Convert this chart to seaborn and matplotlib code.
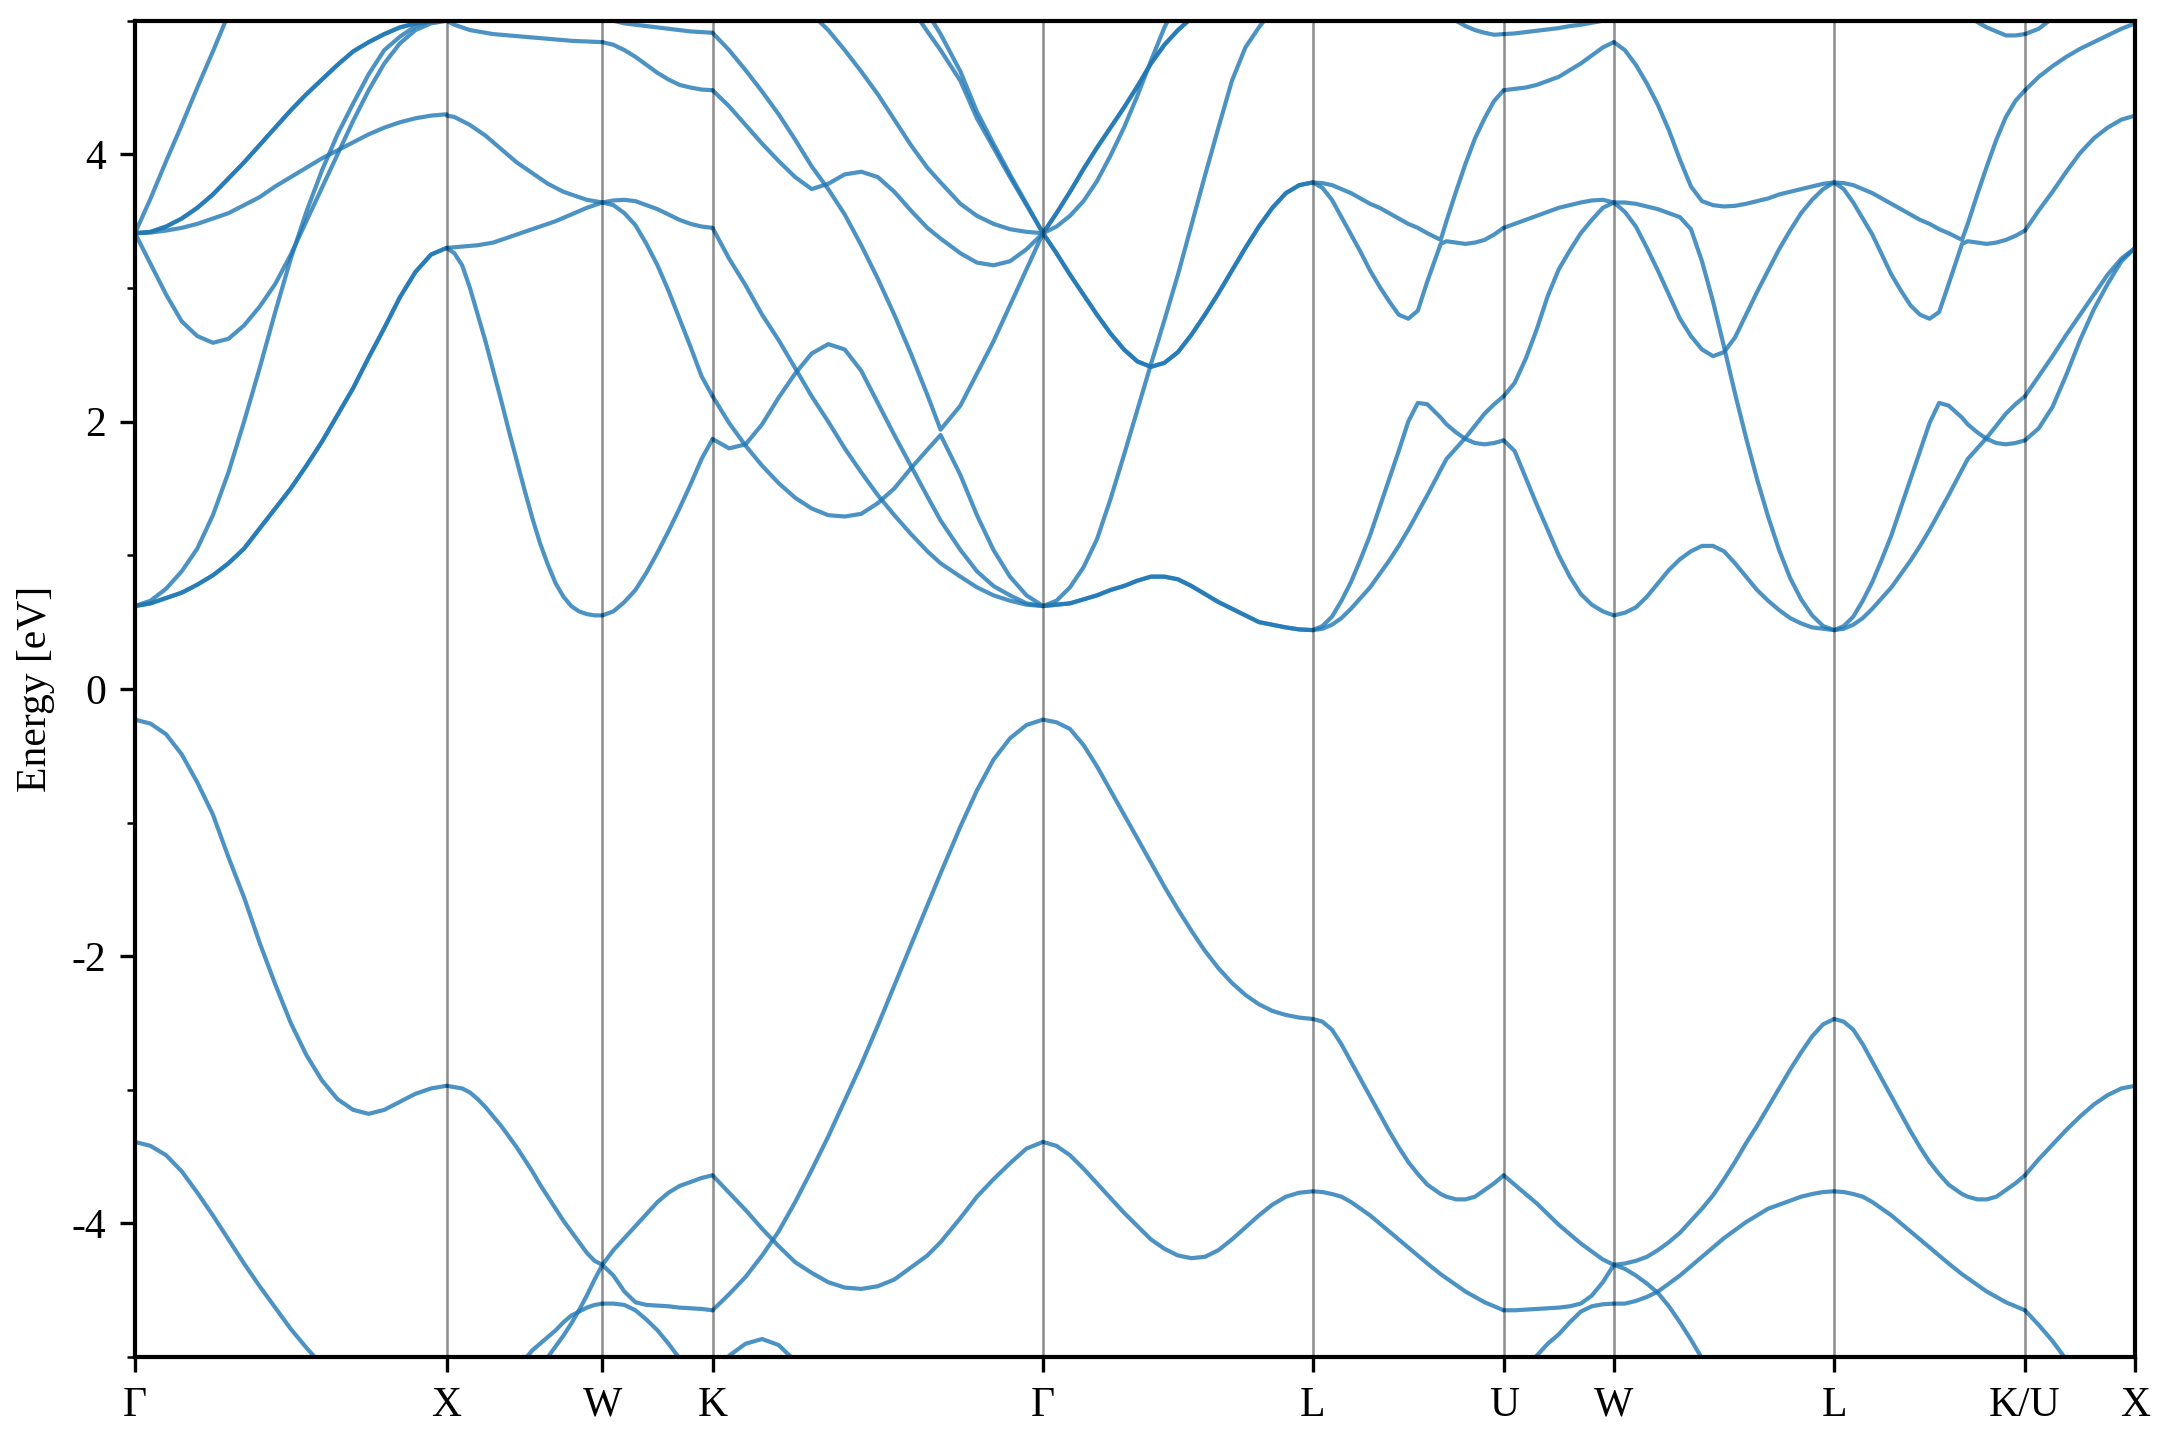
import numpy as np
import pandas as pd
import matplotlib
matplotlib.use("Agg")
import matplotlib.pyplot as plt
from matplotlib.ticker import MultipleLocator
import seaborn as sns

nan = np.nan

# ---------------- high-symmetry path ----------------
kpoint_labels = ["Γ", "X", "W", "K", "Γ", "L", "U", "W", "L", "K/U", "X"]
kpoint_dist = [0.0, 1.0, 1.5, 1.8536, 2.9142, 3.7802, 4.3926, 4.7462, 5.4533, 6.0657, 6.4193]

# ---------------- band energies (eV) read per path segment ----------------
# Γ -> X
gx_t = [0, .05, .1, .15, .2, .25, .3, .35, .4, .45, .5, .55, .6, .65, .7, .75, .8, .85, .9, .95, 1.0]
gx_bands = [
    [0.62, 0.64, 0.68, 0.72, 0.78, 0.85, 0.94, 1.05, 1.20, 1.35, 1.50, 1.67, 1.85, 2.05, 2.25, 2.48, 2.70, 2.93, 3.12, 3.25, 3.30],
    [0.62, 0.66, 0.75, 0.88, 1.05, 1.30, 1.62, 2.00, 2.40, 2.82, 3.22, 3.57, 3.88, 4.15, 4.38, 4.60, 4.78, 4.88, 4.96, 5.00, 5.02],
    [3.41, 3.18, 2.95, 2.75, 2.64, 2.59, 2.62, 2.72, 2.86, 3.03, 3.25, 3.50, 3.75, 4.00, 4.25, 4.48, 4.68, 4.83, 4.93, 4.98, 5.00],
    [3.41, 3.67, 3.95, 4.22, 4.50, 4.77, 5.05, 5.35, nan, nan, nan, nan, nan, nan, nan, nan, nan, nan, nan, nan, nan],
    [3.41, 3.42, 3.46, 3.52, 3.60, 3.70, 3.82, 3.94, 4.07, 4.20, 4.33, 4.45, 4.56, 4.67, 4.77, 4.84, 4.90, 4.95, 4.98, 4.995, 5.00],
    [3.41, 3.415, 3.43, 3.45, 3.48, 3.52, 3.56, 3.62, 3.68, 3.76, 3.83, 3.90, 3.97, 4.03, 4.09, 4.15, 4.20, 4.24, 4.27, 4.29, 4.30],
    [-0.23, -0.26, -0.34, -0.49, -0.70, -0.94, -1.26, -1.56, -1.90, -2.21, -2.50, -2.74, -2.93, -3.07, -3.15, -3.18, -3.15, -3.09, -3.03, -2.99, -2.97],
    [-3.39, -3.42, -3.49, -3.61, -3.77, -3.94, -4.12, -4.30, -4.47, -4.63, -4.79, -4.93, -5.06, -5.20, nan, nan, nan, nan, nan, nan, nan],
]
gx_degen = [2, 1, 1, 1, 2, 1, 1, 1]

# X -> W
xw_t = [0, .05, .1, .15, .2, .25, .3, .35, .4, .45, .5, .55, .6, .65, .7, .75, .8, .85, .9, .95, 1.0]
xw_bands = [
    [3.30, 3.26, 3.17, 3.00, 2.80, 2.60, 2.38, 2.16, 1.93, 1.71, 1.49, 1.28, 1.09, 0.93, 0.79, 0.69, 0.62, 0.58, 0.56, 0.55, 0.55],
    [3.30, 3.305, 3.31, 3.315, 3.32, 3.33, 3.34, 3.36, 3.38, 3.40, 3.42, 3.44, 3.46, 3.48, 3.50, 3.525, 3.55, 3.575, 3.60, 3.62, 3.64],
    [4.29, 4.28, 4.25, 4.22, 4.18, 4.14, 4.09, 4.04, 3.99, 3.94, 3.90, 3.86, 3.82, 3.78, 3.75, 3.72, 3.70, 3.68, 3.66, 3.65, 3.64],
    [5.00, 4.97, 4.95, 4.93, 4.92, 4.91, 4.90, 4.895, 4.89, 4.885, 4.88, 4.875, 4.87, 4.865, 4.86, 4.855, 4.85, 4.847, 4.845, 4.842, 4.84],
    [-2.97, -2.98, -2.99, -3.02, -3.07, -3.13, -3.20, -3.27, -3.35, -3.43, -3.52, -3.61, -3.71, -3.80, -3.89, -3.98, -4.06, -4.14, -4.22, -4.28, -4.31],
    [nan, nan, nan, nan, nan, nan, nan, nan, nan, nan, nan, nan, -5.15, -5.00, -4.92, -4.84, -4.75, -4.65, -4.54, -4.42, -4.31],
    [nan, nan, nan, nan, nan, nan, nan, nan, nan, -5.15, -5.02, -4.95, -4.90, -4.85, -4.80, -4.74, -4.69, -4.66, -4.63, -4.61, -4.60],
]
xw_degen = [1] * len(xw_bands)

# W -> K
wk_t = [0, .1, .2, .3, .4, .5, .6, .7, .8, .9, 1.0]
wk_bands = [
    [4.84, 4.82, 4.78, 4.73, 4.67, 4.61, 4.56, 4.52, 4.50, 4.485, 4.48],
    [5.02, 5.00, 4.98, 4.97, 4.96, 4.95, 4.94, 4.93, 4.92, 4.915, 4.91],
    [3.64, 3.655, 3.66, 3.65, 3.62, 3.59, 3.55, 3.51, 3.48, 3.46, 3.45],
    [3.64, 3.62, 3.56, 3.47, 3.33, 3.17, 2.98, 2.77, 2.56, 2.34, 2.19],
    [0.55, 0.58, 0.65, 0.74, 0.87, 1.02, 1.18, 1.35, 1.53, 1.72, 1.87],
    [-4.31, -4.20, -4.11, -4.02, -3.93, -3.84, -3.77, -3.72, -3.69, -3.66, -3.64],
    [-4.31, -4.39, -4.51, -4.59, -4.61, -4.615, -4.62, -4.63, -4.635, -4.64, -4.65],
    [-4.60, -4.60, -4.61, -4.65, -4.72, -4.80, -4.90, -5.01, -5.12, nan, nan],
]
wk_degen = [1] * len(wk_bands)

# K -> Γ
kg_t = [0, .05, .1, .15, .2, .25, .3, .35, .4, .45, .5, .55, .6, .65, .69, .75, .8, .85, .9, .95, 1.0]
kg_bands = [
    [4.48, 4.36, 4.22, 4.08, 3.95, 3.83, 3.74, 3.78, 3.85, 3.87, 3.83, 3.72, 3.58, 3.45, 3.37, 3.26, 3.19, 3.17, 3.20, 3.29, 3.41],
    [4.91, 4.78, 4.63, 4.47, 4.30, 4.11, 3.91, 3.74, 3.55, 3.32, 3.07, 2.80, 2.51, 2.20, 1.94, 2.12, 2.36, 2.60, 2.87, 3.14, 3.41],
    [nan, nan, nan, nan, 5.40, 5.20, 5.05, 4.93, 4.78, 4.62, 4.45, 4.26, 4.07, 3.90, 3.79, 3.63, 3.54, 3.48, 3.44, 3.42, 3.41],
    [nan, nan, nan, nan, nan, nan, nan, nan, nan, nan, nan, 5.30, 5.10, 4.92, 4.78, 4.55, 4.27, 4.05, 3.83, 3.62, 3.41],
    [nan, nan, nan, nan, nan, nan, nan, nan, nan, nan, nan, 5.50, 5.30, 5.06, 4.90, 4.62, 4.32, 4.08, 3.85, 3.63, 3.41],
    [3.45, 3.22, 3.02, 2.80, 2.61, 2.40, 2.19, 2.00, 1.80, 1.62, 1.45, 1.30, 1.16, 1.03, 0.94, 0.84, 0.76, 0.70, 0.66, 0.63, 0.62],
    [1.87, 1.80, 1.83, 1.98, 2.18, 2.36, 2.51, 2.58, 2.54, 2.38, 2.14, 1.90, 1.67, 1.44, 1.26, 1.04, 0.88, 0.77, 0.70, 0.64, 0.62],
    [2.19, 1.99, 1.82, 1.67, 1.54, 1.43, 1.35, 1.30, 1.29, 1.31, 1.39, 1.50, 1.65, 1.79, 1.90, 1.60, 1.30, 1.04, 0.84, 0.70, 0.62],
    [-4.65, -4.53, -4.40, -4.24, -4.06, -3.84, -3.60, -3.35, -3.08, -2.81, -2.52, -2.22, -1.92, -1.62, -1.38, -1.03, -0.76, -0.53, -0.37, -0.27, -0.23],
    [-3.64, -3.77, -3.90, -4.04, -4.17, -4.29, -4.37, -4.44, -4.48, -4.49, -4.47, -4.42, -4.33, -4.24, -4.14, -3.96, -3.80, -3.67, -3.55, -3.44, -3.39],
    [-5.30, -4.99, -4.90, -4.865, -4.91, -5.03, -5.20, nan, nan, nan, nan, nan, nan, nan, nan, nan, nan, nan, nan, nan, nan],
]
kg_degen = [1] * len(kg_bands)

# Γ -> L
gl_t = [0, .05, .1, .15, .2, .25, .3, .35, .4, .45, .5, .55, .6, .65, .7, .75, .8, .85, .9, .95, 1.0]
gl_bands = [
    [3.41, 3.56, 3.72, 3.89, 4.05, 4.20, 4.35, 4.51, 4.68, 4.82, 4.93, 5.02, 5.12, 5.22, nan, nan, nan, nan, nan, nan, nan],
    [3.41, 3.46, 3.54, 3.65, 3.80, 3.99, 4.20, 4.44, 4.70, 4.95, 5.15, 5.40, nan, nan, nan, nan, nan, nan, nan, nan, nan],
    [3.41, 3.26, 3.10, 2.95, 2.80, 2.66, 2.54, 2.45, 2.41, 2.44, 2.52, 2.65, 2.80, 2.96, 3.13, 3.30, 3.46, 3.60, 3.71, 3.77, 3.79],
    [0.62, 0.66, 0.76, 0.91, 1.12, 1.42, 1.75, 2.09, 2.43, 2.76, 3.10, 3.47, 3.84, 4.20, 4.55, 4.80, 4.95, 5.08, 5.20, nan, nan],
    [0.62, 0.63, 0.64, 0.67, 0.70, 0.74, 0.77, 0.81, 0.84, 0.84, 0.82, 0.77, 0.71, 0.65, 0.60, 0.55, 0.50, 0.48, 0.46, 0.445, 0.44],
    [-0.23, -0.25, -0.30, -0.42, -0.58, -0.76, -0.94, -1.12, -1.30, -1.48, -1.65, -1.81, -1.96, -2.09, -2.20, -2.29, -2.36, -2.41, -2.44, -2.46, -2.47],
    [-3.39, -3.42, -3.49, -3.59, -3.70, -3.81, -3.92, -4.02, -4.12, -4.19, -4.24, -4.26, -4.25, -4.20, -4.12, -4.03, -3.94, -3.86, -3.80, -3.77, -3.76],
]
gl_degen = [2, 1, 2, 1, 2, 1, 1]

# L -> U
lu_t = [0, .05, .1, .15, .2, .25, .3, .35, .4, .45, .5, .55, .6, .67, .7, .75, .8, .85, .9, .95, 1.0]
lu_bands = [
    [3.79, 3.785, 3.77, 3.74, 3.71, 3.67, 3.63, 3.60, 3.56, 3.52, 3.48, 3.45, 3.41, 3.36, 3.50, 3.72, 3.93, 4.12, 4.27, 4.40, 4.48],
    [3.79, 3.75, 3.66, 3.53, 3.40, 3.27, 3.13, 3.01, 2.90, 2.80, 2.77, 2.83, 3.05, 3.33, 3.35, 3.34, 3.33, 3.34, 3.36, 3.40, 3.45],
    [0.44, 0.47, 0.54, 0.66, 0.80, 0.97, 1.15, 1.36, 1.57, 1.78, 2.00, 2.14, 2.13, 2.03, 1.98, 1.92, 1.87, 1.84, 1.83, 1.84, 1.86],
    [0.44, 0.45, 0.48, 0.53, 0.60, 0.68, 0.76, 0.86, 0.96, 1.07, 1.19, 1.32, 1.45, 1.64, 1.72, 1.80, 1.88, 1.97, 2.06, 2.13, 2.19],
    [nan, nan, nan, nan, nan, nan, nan, nan, nan, nan, nan, nan, 5.20, 5.10, 5.05, 5.00, 4.96, 4.93, 4.91, 4.895, 4.90],
    [-2.47, -2.49, -2.55, -2.66, -2.79, -2.92, -3.05, -3.18, -3.31, -3.43, -3.54, -3.63, -3.71, -3.78, -3.80, -3.82, -3.82, -3.80, -3.75, -3.70, -3.64],
    [-3.76, -3.765, -3.78, -3.80, -3.84, -3.89, -3.94, -4.00, -4.06, -4.12, -4.18, -4.24, -4.30, -4.38, -4.41, -4.46, -4.51, -4.55, -4.59, -4.62, -4.65],
]
lu_degen = [1] * len(lu_bands)

# U -> W
uw_t = [0, .1, .2, .3, .4, .5, .6, .7, .8, .9, 1.0]
uw_bands = [
    [4.90, 4.905, 4.915, 4.925, 4.935, 4.945, 4.96, 4.97, 4.985, 5.00, 5.02],
    [4.48, 4.49, 4.50, 4.52, 4.55, 4.58, 4.63, 4.68, 4.74, 4.80, 4.84],
    [3.45, 3.48, 3.51, 3.54, 3.57, 3.60, 3.62, 3.64, 3.655, 3.66, 3.64],
    [2.19, 2.29, 2.47, 2.69, 2.94, 3.14, 3.28, 3.41, 3.51, 3.60, 3.64],
    [1.86, 1.78, 1.58, 1.38, 1.19, 1.00, 0.84, 0.71, 0.63, 0.58, 0.55],
    [-3.64, -3.71, -3.78, -3.85, -3.93, -4.01, -4.08, -4.15, -4.21, -4.27, -4.31],
    [-4.65, -4.65, -4.645, -4.64, -4.635, -4.63, -4.62, -4.60, -4.54, -4.44, -4.31],
    [nan, nan, -5.30, -4.99, -4.90, -4.83, -4.74, -4.66, -4.62, -4.605, -4.60],
]
uw_degen = [1] * len(uw_bands)

# W -> L
wl_t = [0, .05, .1, .15, .2, .25, .3, .35, .4, .45, .5, .55, .6, .65, .7, .75, .8, .85, .9, .95, 1.0]
wl_bands = [
    [4.84, 4.78, 4.67, 4.53, 4.37, 4.18, 3.96, 3.76, 3.65, 3.62, 3.61, 3.615, 3.63, 3.65, 3.67, 3.70, 3.72, 3.74, 3.76, 3.78, 3.79],
    [3.64, 3.64, 3.63, 3.61, 3.59, 3.56, 3.53, 3.44, 3.20, 2.90, 2.56, 2.21, 1.88, 1.57, 1.29, 1.04, 0.83, 0.67, 0.55, 0.47, 0.44],
    [3.64, 3.57, 3.46, 3.30, 3.13, 2.95, 2.77, 2.64, 2.54, 2.49, 2.52, 2.63, 2.80, 2.97, 3.13, 3.29, 3.43, 3.56, 3.66, 3.74, 3.79],
    [0.55, 0.57, 0.61, 0.69, 0.79, 0.89, 0.97, 1.03, 1.07, 1.07, 1.03, 0.94, 0.84, 0.74, 0.66, 0.59, 0.53, 0.49, 0.46, 0.45, 0.44],
    [-4.31, -4.30, -4.28, -4.25, -4.20, -4.14, -4.07, -3.98, -3.89, -3.79, -3.67, -3.54, -3.40, -3.27, -3.13, -2.99, -2.85, -2.72, -2.60, -2.51, -2.47],
    [-4.60, -4.60, -4.58, -4.55, -4.51, -4.45, -4.39, -4.32, -4.25, -4.18, -4.11, -4.05, -3.99, -3.94, -3.89, -3.86, -3.83, -3.80, -3.78, -3.765, -3.76],
    [-4.31, -4.34, -4.39, -4.45, -4.52, -4.62, -4.74, -4.87, -5.01, -5.17, -5.35, nan, nan, nan, nan, nan, nan, nan, nan, nan, nan],
]
wl_degen = [1] * len(wl_bands)

# L -> K/U
lk_t = [0, .05, .1, .15, .2, .25, .3, .35, .4, .45, .5, .55, .6, .67, .7, .75, .8, .85, .9, .95, 1.0]
lk_bands = [
    [3.79, 3.785, 3.77, 3.74, 3.71, 3.67, 3.63, 3.59, 3.55, 3.51, 3.48, 3.44, 3.41, 3.36, 3.48, 3.70, 3.91, 4.11, 4.28, 4.40, 4.48],
    [3.79, 3.74, 3.64, 3.52, 3.40, 3.25, 3.10, 2.98, 2.87, 2.80, 2.77, 2.82, 3.03, 3.33, 3.35, 3.34, 3.33, 3.34, 3.36, 3.39, 3.43],
    [0.44, 0.47, 0.54, 0.66, 0.80, 0.97, 1.15, 1.36, 1.57, 1.78, 1.99, 2.14, 2.12, 2.03, 1.98, 1.92, 1.87, 1.84, 1.83, 1.84, 1.86],
    [0.44, 0.45, 0.48, 0.53, 0.60, 0.68, 0.76, 0.86, 0.96, 1.07, 1.19, 1.32, 1.45, 1.64, 1.72, 1.80, 1.88, 1.97, 2.06, 2.13, 2.19],
    [nan, nan, nan, nan, nan, nan, nan, nan, nan, nan, nan, nan, 5.20, 5.10, 5.04, 4.99, 4.95, 4.92, 4.89, 4.89, 4.90],
    [-2.47, -2.49, -2.55, -2.66, -2.79, -2.92, -3.05, -3.18, -3.31, -3.43, -3.54, -3.63, -3.71, -3.78, -3.80, -3.82, -3.82, -3.80, -3.75, -3.70, -3.64],
    [-3.76, -3.765, -3.78, -3.80, -3.84, -3.89, -3.94, -4.00, -4.06, -4.12, -4.18, -4.24, -4.30, -4.38, -4.41, -4.46, -4.51, -4.55, -4.59, -4.62, -4.65],
]
lk_degen = [1] * len(lk_bands)

# K/U -> X
kx_t = [0, .125, .25, .375, .5, .625, .75, .875, 1.0]
kx_bands = [
    [4.90, 4.94, 5.02, 5.12, 5.25, nan, nan, nan, nan],
    [4.48, 4.58, 4.66, 4.73, 4.79, 4.84, 4.89, 4.94, 4.98],
    [3.43, 3.58, 3.72, 3.87, 4.01, 4.12, 4.20, 4.26, 4.29],
    [2.19, 2.34, 2.49, 2.65, 2.80, 2.95, 3.10, 3.22, 3.30],
    [1.86, 1.95, 2.11, 2.35, 2.61, 2.84, 3.03, 3.20, 3.30],
    [-3.64, -3.52, -3.41, -3.30, -3.20, -3.11, -3.04, -2.99, -2.97],
    [-4.65, -4.76, -4.88, -5.02, -5.20, nan, nan, nan, nan],
]
kx_degen = [1] * len(kx_bands)

segments = [
    (gx_t, gx_bands, gx_degen),
    (xw_t, xw_bands, xw_degen),
    (wk_t, wk_bands, wk_degen),
    (kg_t, kg_bands, kg_degen),
    (gl_t, gl_bands, gl_degen),
    (lu_t, lu_bands, lu_degen),
    (uw_t, uw_bands, uw_degen),
    (wl_t, wl_bands, wl_degen),
    (lk_t, lk_bands, lk_degen),
    (kx_t, kx_bands, kx_degen),
]

# ---------------- long table ----------------
rows = []
uid = 0
for i, (tt, bands, degen) in enumerate(segments):
    k0, k1 = kpoint_dist[i], kpoint_dist[i + 1]
    for band, g in zip(bands, degen):
        for _ in range(g):
            for t, e in zip(tt, band):
                rows.append((uid, k0 + t * (k1 - k0), e))
            uid += 1
df = pd.DataFrame(rows, columns=["curve", "k", "E"]).dropna()

# ---------------- style ----------------
sns.set_style("ticks")
plt.rcParams["font.family"] = ["Liberation Serif", "DejaVu Serif"]
plt.rcParams.update({
    "font.size": 10,
    "axes.unicode_minus": False,
    "axes.edgecolor": "black",
    "axes.linewidth": 1.0,
    "xtick.color": "black",
    "ytick.color": "black",
    "text.color": "black",
    "axes.labelcolor": "black",
    "xtick.major.size": 3.5,
    "ytick.major.size": 3.5,
    "ytick.minor.size": 2.0,
    "xtick.major.width": 0.8,
    "ytick.major.width": 0.8,
    "ytick.minor.width": 0.6,
})

fig = plt.figure(figsize=(7.2, 4.8), dpi=300)
ax = fig.add_axes([0.0625, 0.0576, 0.926, 0.928])

sns.lineplot(data=df, x="k", y="E", units="curve", estimator=None, sort=False,
             color="#1f77b4", alpha=0.8, lw=1.0, legend=False, ax=ax)

for k in kpoint_dist[1:-1]:
    ax.axvline(k, color="black", alpha=0.45, lw=0.6, zorder=3)

ax.set_xlim(kpoint_dist[0], kpoint_dist[-1])
ax.set_ylim(-5, 5)
ax.set_xticks(kpoint_dist)
ax.set_xticklabels(kpoint_labels)
ax.set_yticks([-4, -2, 0, 2, 4])
ax.yaxis.set_minor_locator(MultipleLocator(1))
ax.set_xlabel("")
ax.set_ylabel("Energy [eV]")
for s in ax.spines.values():
    s.set_visible(True)
    s.set_linewidth(1.0)

fig.savefig("out.png", dpi=300)
